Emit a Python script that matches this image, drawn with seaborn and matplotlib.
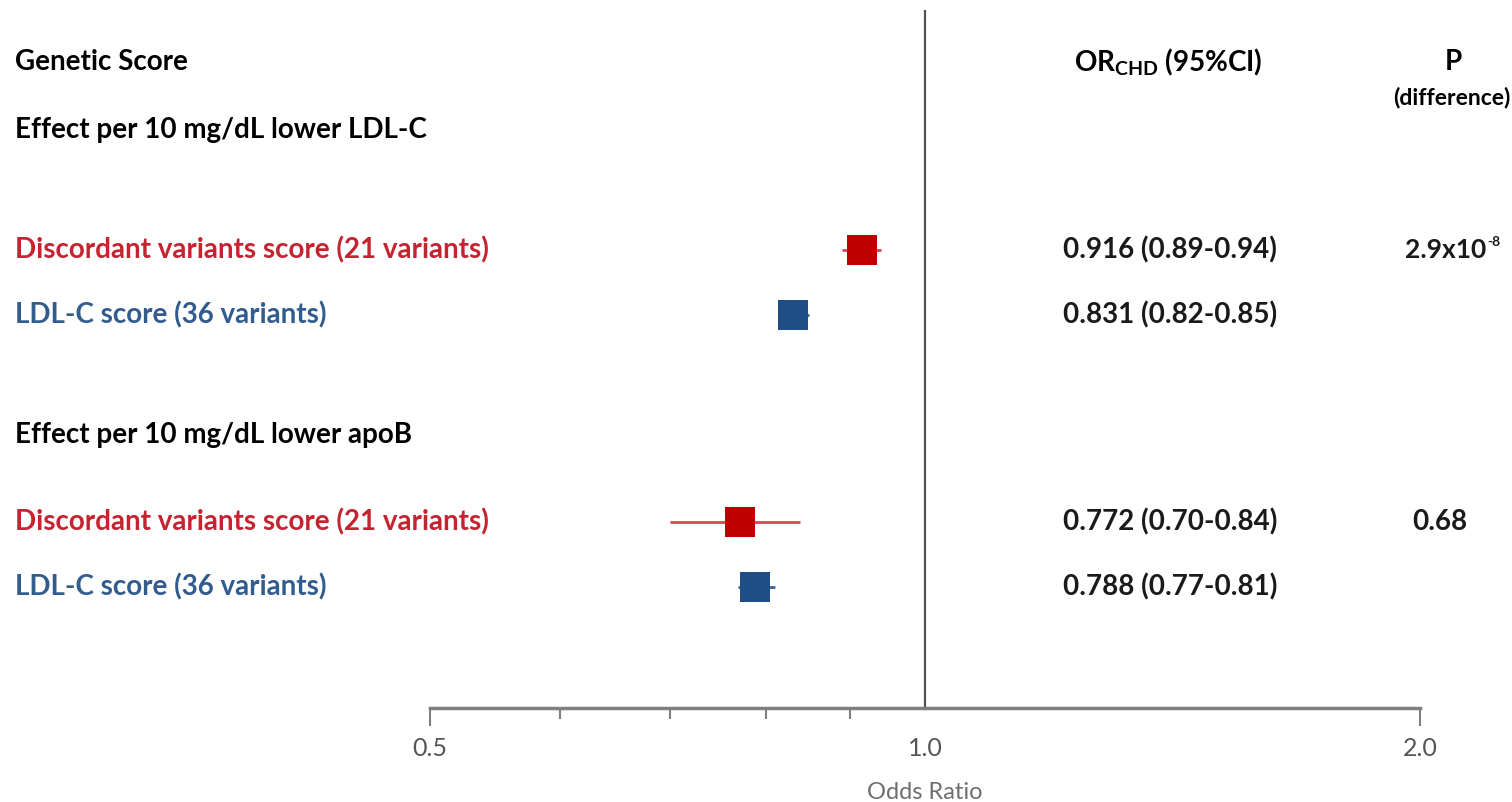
import pandas as pd
import matplotlib.pyplot as plt
import matplotlib.transforms as mtransforms
import seaborn as sns

# 資料
groups = ["Effect per 10 mg/dL lower LDL-C", "Effect per 10 mg/dL lower apoB"]
scores = ["Discordant variants score (21 variants)", "LDL-C score (36 variants)",
          "Discordant variants score (21 variants)", "LDL-C score (36 variants)"]
score_type = ["discordant", "ldlc", "discordant", "ldlc"]
odds = [0.916, 0.831, 0.772, 0.788]
ci_low = [0.89, 0.82, 0.70, 0.77]
ci_high = [0.94, 0.85, 0.84, 0.81]
or_text = ["0.916 (0.89-0.94)", "0.831 (0.82-0.85)", "0.772 (0.70-0.84)", "0.788 (0.77-0.81)"]
p_base = ["2.9x10", "0.68"]
p_exp = ["-8", ""]
x_ticks = [0.5, 1.0, 2.0]
x_tick_labels = ["0.5", "1.0", "2.0"]
x_minor = [0.6, 0.7, 0.8, 0.9]

# 版面 (像素座標)
header_y = 62
group_y = [130, 435]
row_y = [250, 315, 522, 587]
p_y = [250, 522]

red_mark, blue_mark = "#C00000", "#1F4E85"
red_txt, blue_txt = "#C62330", "#335C8E"
txt_col = {"discordant": red_txt, "ldlc": blue_txt}
ci_col = {"discordant": "#D8474F", "ldlc": "#3F6290"}

sns.set_theme(style="white")
plt.rcParams["font.family"] = ["Lato", "DejaVu Sans"]
plt.rcParams["mathtext.fontset"] = "custom"
plt.rcParams["mathtext.rm"] = "Lato:bold"

df = pd.DataFrame({"score": scores, "type": score_type, "odds": odds,
                   "low": ci_low, "high": ci_high, "y": row_y})

fig = plt.figure(figsize=(15.12, 8.02), dpi=100)
ax = fig.add_axes([430 / 1512, 1 - 708 / 802, 990 / 1512, 698 / 802])
ax.set_xscale("log")

# 信賴區間
for t in ["discordant", "ldlc"]:
    d = df[df.type == t]
    ax.hlines(d.y, d.low, d.high, colors=ci_col[t], lw=2, zorder=2)

sns.scatterplot(data=df, x="odds", y="y", hue="type", palette=[red_mark, blue_mark],
                hue_order=["discordant", "ldlc"], marker="s", s=470, linewidth=0,
                legend=False, ax=ax, zorder=3)

ax.axvline(1.0, color="#505050", lw=1.6, zorder=1)
ax.set_xlim(0.5, 2.0)
ax.set_ylim(708, 10)

for s in ["top", "left", "right"]:
    ax.spines[s].set_visible(False)
ax.spines["bottom"].set_color("#7F7F7F")
ax.spines["bottom"].set_linewidth(2.5)
ax.set_yticks([])
ax.set_xticks(x_ticks)
ax.set_xticklabels(x_tick_labels)
ax.set_xticks(x_minor, minor=True)
ax.set_xticklabels([], minor=True)
ax.tick_params(axis="x", which="major", length=13, width=1.5, color="#7F7F7F",
               pad=8, labelsize=18, labelcolor="#555555", bottom=True)
ax.tick_params(axis="x", which="minor", length=8, width=1.5, color="#7F7F7F", bottom=True)
ax.xaxis.get_major_ticks()[1].tick1line.set_visible(False)
ax.set_xlabel("Odds Ratio", fontsize=17, color="#6E6E6E", labelpad=16)
ax.set_ylabel("")
ax.grid(False)

# 文字
tr = mtransforms.blended_transform_factory(fig.transFigure, ax.transData)
lx = 15 / 1512
fs = 20
ax.text(lx, header_y, "Genetic Score", transform=tr, ha="left", va="center",
        fontsize=fs, fontweight="bold", color="black")
for g, y in zip(groups, group_y):
    ax.text(lx, y, g, transform=tr, ha="left", va="center",
            fontsize=fs, fontweight="bold", color="black")
for lab, t, y in zip(scores, score_type, row_y):
    ax.text(lx, y, lab, transform=tr, ha="left", va="center",
            fontsize=fs, fontweight="bold", color=txt_col[t])

ax.text(1168 / 1512, header_y, r"OR$_{\mathregular{CHD}}$ (95%CI)", transform=tr,
        ha="center", va="center", fontsize=fs, fontweight="bold", color="black")
ax.text(1453 / 1512, header_y, "P", transform=tr, ha="center", va="center",
        fontsize=fs, fontweight="bold", color="black")
ax.text(1452 / 1512, 97, "(difference)", transform=tr, ha="center", va="center",
        fontsize=16.5, fontweight="bold", color="black")
for s, y in zip(or_text, row_y):
    ax.text(1170 / 1512, y, s, transform=tr, ha="center", va="center",
            fontsize=fs, fontweight="bold", color="#1A1A1A")

# P 值
ax.text(1486 / 1512, p_y[0], p_base[0], transform=tr, ha="right", va="center",
        fontsize=19, fontweight="bold", color="#1A1A1A")
ax.text(1487 / 1512, p_y[0] - 8, p_exp[0], transform=tr, ha="left", va="center",
        fontsize=10, fontweight="bold", color="#1A1A1A")
ax.text(1440 / 1512, p_y[1], p_base[1], transform=tr, ha="center", va="center",
        fontsize=fs, fontweight="bold", color="#1A1A1A")

fig.savefig("out.png", dpi=100, facecolor="white")
